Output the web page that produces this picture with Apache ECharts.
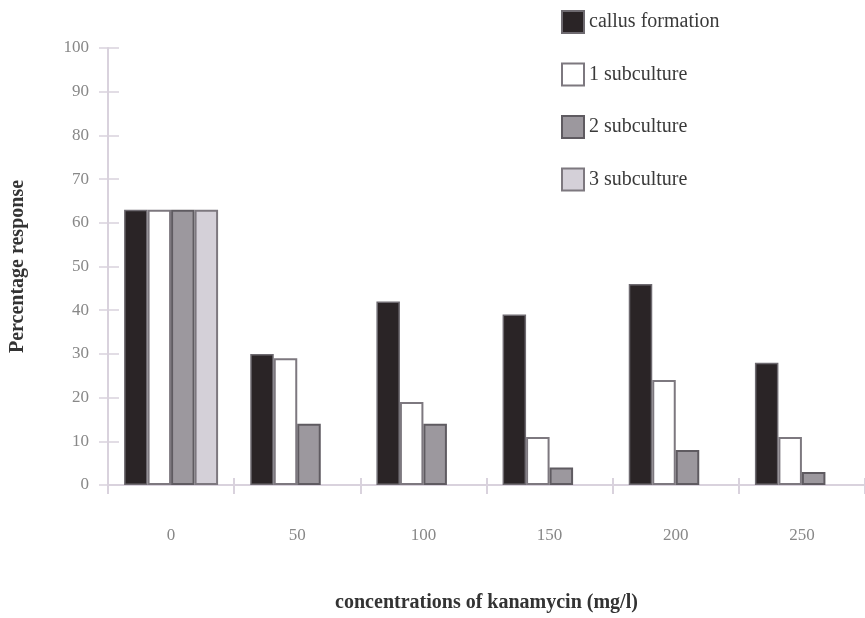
<!DOCTYPE html>
<html>
<head>
<meta charset="utf-8">
<script src="https://cdn.jsdelivr.net/npm/echarts@6/dist/echarts.min.js"></script>
<style>html,body{margin:0;padding:0;background:#fff;}#c{width:865px;height:618px;}</style>
</head>
<body>
<div id="c"></div>
<script>
var categories = ['0', '50', '100', '150', '200', '250'];
var callus = [63, 30, 42, 39, 46, 28];
var sub1 = [63, 29, 19, 11, 24, 11];
var sub2 = [63, 14, 14, 4, 8, 3];
var sub3 = [63, null, null, null, null, null];
var yTicks = [0, 10, 20, 30, 40, 50, 60, 70, 80, 90, 100];

var serif = '"Liberation Serif", "DejaVu Serif", serif';
var chart = echarts.init(document.getElementById('c'));
var axisCol = '#d9d2dd';
var option = {
  backgroundColor: '#fff',
  animation: false,
  grid: { left: 107, top: 48, bottom: 129, width: 765 },
  legend: {
    orient: 'vertical', left: 556, top: 5,
    icon: 'rect',
    itemWidth: 22, itemHeight: 22, itemGap: 28.5,
    textStyle: { fontFamily: serif, fontSize: 20, color: '#3a3a3a' },
    data: ['callus formation', '1 subculture', '2 subculture', '3 subculture']
  },
  xAxis: [{
    type: 'category', data: categories,
    axisLine: { lineStyle: { color: axisCol, width: 2 } },
    axisTick: { show: true, length: 9, lineStyle: { color: axisCol, width: 2 } },
    axisLabel: { margin: 42, fontFamily: serif, fontSize: 17, color: '#888' },
    name: 'concentrations of kanamycin (mg/l)', nameLocation: 'middle', nameGap: 108,
    nameTextStyle: { fontFamily: serif, fontSize: 20, fontWeight: 'bold', color: '#333' }
  }, {
    type: 'category', data: categories, position: 'bottom',
    axisLine: { show: false },
    axisTick: { show: true, inside: true, length: 7, lineStyle: { color: axisCol, width: 2 } },
    axisLabel: { show: false }
  }],
  yAxis: [{
    type: 'value', min: 0, max: 100, interval: 10,
    splitLine: { show: false },
    axisLine: { show: true, lineStyle: { color: axisCol, width: 2 } },
    axisTick: { show: true, length: 9, lineStyle: { color: axisCol, width: 1.5 } },
    axisLabel: { margin: 19, fontFamily: serif, fontSize: 17, color: '#888',
      formatter: function (v) { return yTicks.indexOf(v) >= 0 ? String(v) : ''; } },
    name: 'Percentage response', nameLocation: 'middle', nameGap: 80,
    nameTextStyle: { fontFamily: serif, fontSize: 20, fontWeight: 'bold', color: '#333' }
  }, {
    type: 'value', min: 0, max: 100, interval: 10, position: 'left',
    splitLine: { show: false },
    axisLine: { show: false },
    axisTick: { show: true, inside: true, length: 11, lineStyle: { color: axisCol, width: 1.5 } },
    axisLabel: { show: false }
  }],
  series: [
    { name: 'callus formation', type: 'bar', data: callus, barWidth: 23.5, barGap: '0%',
      itemStyle: { color: '#2a2426', borderColor: '#6e6a70', borderWidth: 1.5 } },
    { name: '1 subculture', type: 'bar', data: sub1, barWidth: 23.5, barGap: '0%',
      itemStyle: { color: '#ffffff', borderColor: '#7d787f', borderWidth: 2 } },
    { name: '2 subculture', type: 'bar', data: sub2, barWidth: 23.5, barGap: '0%',
      itemStyle: { color: '#9c989e', borderColor: '#5f5b61', borderWidth: 2 } },
    { name: '3 subculture', type: 'bar', data: sub3, barWidth: 23.5, barGap: '0%',
      itemStyle: { color: '#d4d0d8', borderColor: '#7d787f', borderWidth: 2 } }
  ]
};
chart.setOption(option);
</script>
</body>
</html>
